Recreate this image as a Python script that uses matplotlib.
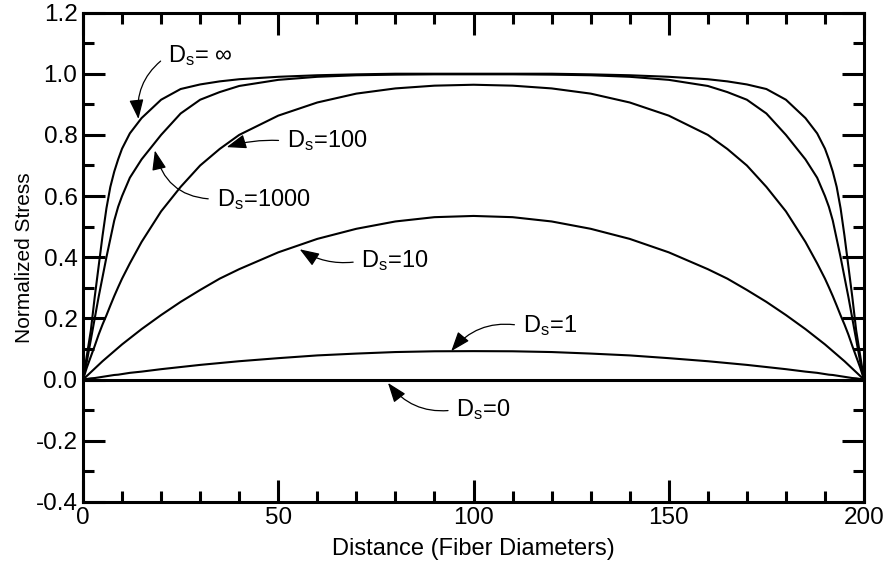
import matplotlib
matplotlib.use("Agg")
import matplotlib.pyplot as plt

plt.rcParams['font.family'] = ['Liberation Sans', 'DejaVu Sans']
plt.rcParams['mathtext.default'] = 'regular'

# distance along the fiber (fiber diameters)
x = [0, 1, 2, 3, 4, 5, 6, 7, 8, 9, 10, 12, 15, 20, 25, 30, 35, 40, 50, 60, 70, 80, 90,
     100,
     110, 120, 130, 140, 150, 160, 165, 170, 175, 180, 185, 188, 190, 191, 192, 193,
     194, 195, 196, 197, 198, 199, 200]

# normalized stress
ds_inf = [0, 0.08, 0.16, 0.27, 0.37, 0.47, 0.56, 0.63, 0.68, 0.72, 0.755, 0.805,
          0.855, 0.915, 0.95, 0.965, 0.975, 0.982, 0.99, 0.995, 0.998, 1.0, 1.0,
          1.0,
          1.0, 1.0, 0.998, 0.995, 0.99, 0.982, 0.975, 0.965, 0.95, 0.915, 0.855,
          0.805, 0.755, 0.72, 0.68, 0.63, 0.56, 0.47, 0.37, 0.27, 0.16, 0.08, 0]
ds_1000 = [0, 0.06, 0.13, 0.20, 0.27, 0.335, 0.40, 0.46, 0.52, 0.565, 0.60, 0.66,
           0.72, 0.80, 0.87, 0.915, 0.94, 0.96, 0.98, 0.99, 0.995, 0.997, 0.998,
           0.998,
           0.998, 0.997, 0.995, 0.99, 0.98, 0.96, 0.94, 0.915, 0.87, 0.80, 0.72,
           0.66, 0.60, 0.565, 0.52, 0.46, 0.40, 0.335, 0.27, 0.20, 0.13, 0.06, 0]
ds_100 = [0, 0.04, 0.075, 0.11, 0.147, 0.18, 0.21, 0.242, 0.273, 0.302, 0.33, 0.38,
          0.45, 0.55, 0.63, 0.70, 0.754, 0.80, 0.863, 0.906, 0.935, 0.952, 0.961,
          0.964,
          0.961, 0.952, 0.935, 0.906, 0.863, 0.80, 0.754, 0.70, 0.63, 0.55, 0.45,
          0.38, 0.33, 0.302, 0.273, 0.242, 0.21, 0.18, 0.147, 0.11, 0.075, 0.04, 0]
ds_10 = [0, 0.012, 0.024, 0.036, 0.048, 0.06, 0.071, 0.082, 0.093, 0.104, 0.115,
         0.135, 0.165, 0.211, 0.254, 0.293, 0.33, 0.361, 0.416, 0.46, 0.493, 0.517,
         0.531,
         0.535,
         0.531, 0.517, 0.493, 0.46, 0.416, 0.361, 0.33, 0.293, 0.254, 0.211, 0.165,
         0.135, 0.115, 0.104, 0.093, 0.082, 0.071, 0.06, 0.048, 0.036, 0.024, 0.012, 0]
ds_1 = [0, 0.002, 0.004, 0.005, 0.007, 0.009, 0.011, 0.013, 0.015, 0.016, 0.018,
        0.022, 0.026, 0.034, 0.041, 0.048, 0.054, 0.06, 0.07, 0.079, 0.085, 0.09,
        0.0925,
        0.093,
        0.0925, 0.09, 0.085, 0.079, 0.07, 0.06, 0.054, 0.048, 0.041, 0.034, 0.026,
        0.022, 0.018, 0.016, 0.015, 0.013, 0.011, 0.009, 0.007, 0.005, 0.004, 0.002, 0]
ds_0 = [0] * len(x)

# labels: text, text position, arrow tip, arc curvature
labels = ['D$_s$= \u221e', 'D$_s$=1000', 'D$_s$=100', 'D$_s$=10', 'D$_s$=1', 'D$_s$=0']
text_xy = [(21.7, 1.059), (34.2, 0.590), (52.2, 0.780), (71.3, 0.388),
           (112.6, 0.175), (95.6, -0.098)]
tip_xy = [(14.2, 0.852), (18.4, 0.749), (36.8, 0.76), (55.5, 0.426),
          (94.3, 0.093), (78.1, -0.011)]
rads = [0.3, -0.4, 0.1, -0.2, 0.3, -0.3]

fig = plt.figure(figsize=(8.83, 5.71), dpi=100)
ax = fig.add_axes([0.094, 0.121, 0.8845, 0.857])

for y in [ds_inf, ds_1000, ds_100, ds_10, ds_1]:
    ax.plot(x, y, color='black', lw=1.5)
ax.plot(x, ds_0, color='black', lw=2.2)

for lab, txy, tip, r in zip(labels, text_xy, tip_xy, rads):
    ax.annotate(lab, xy=tip, xytext=txy, ha='left', va='center', fontsize=17,
                arrowprops=dict(arrowstyle='-|>,head_length=0.6,head_width=0.22',
                                mutation_scale=20, lw=0.9, color='black',
                                shrinkA=4, shrinkB=0, relpos=(0, 0.5),
                                connectionstyle='arc3,rad=%s' % r))

ax.set_xlim(0, 200)
ax.set_ylim(-0.4, 1.2)
ax.set_xticks([0, 50, 100, 150, 200])
ax.set_xticks(range(0, 201, 10), minor=True)
ax.set_yticks([-0.4, -0.2, 0.0, 0.2, 0.4, 0.6, 0.8, 1.0, 1.2])
ax.set_yticks([-0.3, -0.1, 0.1, 0.3, 0.5, 0.7, 0.9, 1.1], minor=True)
ax.set_yticklabels(['-0.4', '-0.2', '0.0', '0.2', '0.4', '0.6', '0.8', '1.0', '1.2'])

ax.tick_params(which='both', direction='in', top=True, right=True,
               labelsize=17.5, width=2.2)
ax.tick_params(which='major', length=16, pad=4)
ax.tick_params(which='minor', length=8)
for s in ax.spines.values():
    s.set_linewidth(2.2)

ax.set_xlabel('Distance (Fiber Diameters)', fontsize=17, labelpad=6)
ax.set_ylabel('Normalized Stress', fontsize=15, labelpad=1)

fig.savefig('out.png', dpi=100)
